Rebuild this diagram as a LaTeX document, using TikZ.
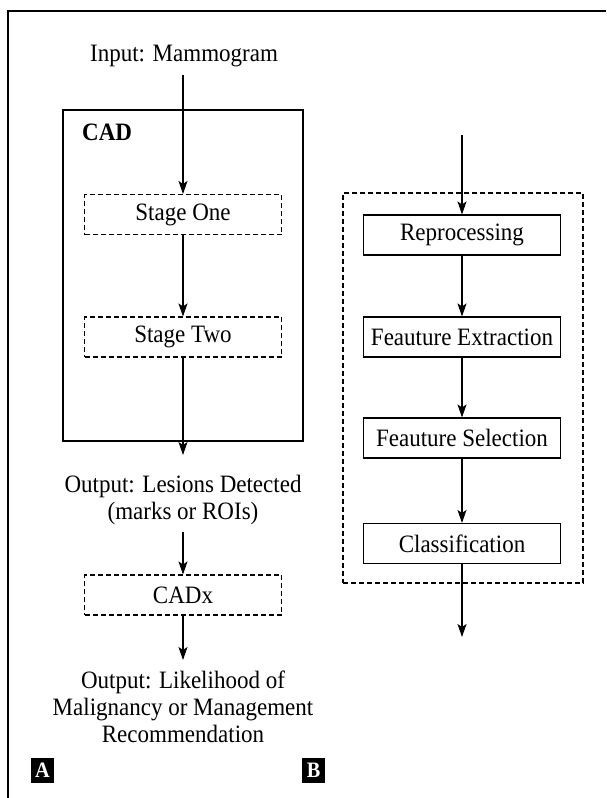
\documentclass[tikz,border=0pt]{standalone}
\usepackage{fontspec}
\setmainfont{Liberation Serif}[FakeStretch=0.92]
\usetikzlibrary{arrows.meta}
\begin{document}
\begin{tikzpicture}[x=1pt,y=-1pt,
  txt/.style={font=\fontsize{25}{27}\selectfont, inner sep=0pt, align=center},
  stepbox/.style={draw, line width=1.1pt, minimum width=197pt, minimum height=40pt, inner sep=0pt, font=\fontsize{25}{27}\selectfont},
  dbox/.style={stepbox, dash pattern=on 5pt off 3pt},
  grpbox/.style={draw, line width=1.1pt, inner sep=0pt},
  arr/.style={line width=1.1pt, -{Stealth[length=13pt,width=9pt,inset=3pt]}},
  tag/.style={fill=black, text=white, font=\bfseries\fontsize{22}{22}\selectfont, minimum width=23pt, minimum height=25pt, inner sep=0pt}]
\useasboundingbox (0,0) rectangle (606,798);
\draw[line width=1.2pt] (606,11) -- (8,11) -- (8,798);
% left column
\node[txt, anchor=base] (inp) at (184,61) {Input: Mammogram};
\coordinate (inpo) at (183,75);
\node[grpbox, minimum width=240pt, minimum height=331pt] (cad) at (183,275.5) {};
\node[txt, anchor=base west, font=\bfseries\fontsize{25}{27}\selectfont] (cadl) at (82,140) {CAD};
\node[dbox] (s1) at (183,214.5) {Stage One};
\node[dbox] (s2) at (183,337) {Stage Two};
\coordinate (s2o) at (183,455);
\node[txt, anchor=north] (o1) at (183,475) {Output: Lesions Detected\\(marks or ROIs)};
\coordinate (o1o) at (183,532);
\node[dbox] (cadx) at (183,595) {CADx};
\coordinate (cxo) at (183,660);
\node[txt, anchor=north] (o2) at (183,671) {Output: Likelihood of\\Malignancy or Management\\Recommendation};
\node[tag] (ta) at (42.5,770.5) {A};
\node[tag] (tb) at (313.5,770.5) {B};
% right column
\node[grpbox, dash pattern=on 5pt off 3pt, minimum width=240pt, minimum height=390pt] (grp) at (463,388) {};
\coordinate (rin) at (462,135);
\node[stepbox] (r1) at (462,235) {Reprocessing};
\node[stepbox] (r2) at (462,337) {Feauture Extraction};
\node[stepbox] (r3) at (462,438) {Feauture Selection};
\node[stepbox] (r4) at (462,543.5) {Classification};
\coordinate (rout) at (462,637);
% arrows
\draw[arr] (inpo) -- (s1.north);
\draw[arr] (s1) -- (s2);
\draw[arr] (s2) -- (s2o);
\draw[arr] (o1o) -- (cadx);
\draw[arr] (cadx) -- (cxo);
\draw[arr] (rin) -- (r1);
\draw[arr] (r1) -- (r2);
\draw[arr] (r2) -- (r3);
\draw[arr] (r3) -- (r4);
\draw[arr] (r4) -- (rout);
\end{tikzpicture}
\end{document}
